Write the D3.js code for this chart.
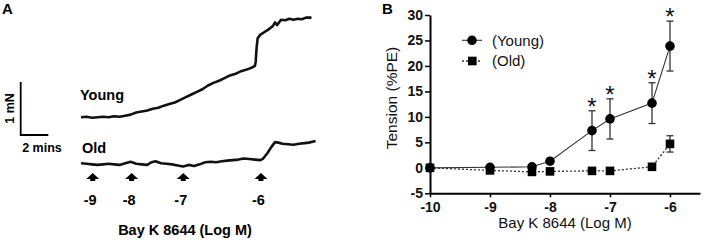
<!DOCTYPE html>
<html>
<head>
<meta charset="utf-8">
<script src="https://cdn.jsdelivr.net/npm/d3@7"></script>
<style>
  body { margin: 0; background: #fff; }
  svg { font-family: 'Liberation Sans', Arial, sans-serif; display: block; }
</style>
</head>
<body>
<svg width="709" height="244"></svg>
<script>
// panel B: dose response
const doses = [-10, -9, -8.3, -8, -7.3, -7, -6.3, -6]
const youngMean = [0, 0.1, 0.2, 1.3, 7.3, 9.6, 12.7, 23.9]
const youngSem = [0, 0, 0, 0, 3.9, 3.95, 4.0, 4.9]
const oldMean = [0, -0.5, -0.8, -0.7, -0.6, -0.6, 0.2, 4.7]
const oldSem = [0, 0, 0, 0, 0, 0, 0, 1.6]
const significant = [false, false, false, false, true, true, true, true]
const yTicks = [-5, 0, 5, 10, 15, 20, 25, 30]
const xTicks = [-10, -9, -8, -7, -6]

// panel A: raw traces (minutes, mN above start)
const youngTime = [0, 0.4, 0.8, 1.2, 1.6, 2.0, 2.4, 2.8, 3.2, 3.6, 4.0, 4.4, 4.8, 5.2, 5.6, 6.0, 6.4, 6.8, 7.2, 7.6, 8.0, 8.4, 8.8, 9.2, 9.6, 10.0, 10.4, 10.8, 11.2, 11.6, 12.0, 12.4, 12.6, 12.66, 12.72, 12.8, 13.0, 13.3, 13.6, 13.9, 14.06, 14.2, 14.5, 14.8, 15.1, 15.4, 15.7, 16.0, 16.3, 16.7]
const youngTension = [0, 0.01, -0.01, 0, 0.01, 0, 0.02, 0.01, 0.03, 0.05, 0.09, 0.11, 0.13, 0.16, 0.18, 0.22, 0.25, 0.28, 0.33, 0.38, 0.43, 0.48, 0.53, 0.6, 0.65, 0.69, 0.74, 0.79, 0.82, 0.87, 0.9, 0.94, 0.97, 1.05, 1.3, 1.49, 1.56, 1.61, 1.66, 1.72, 1.79, 1.74, 1.84, 1.83, 1.86, 1.84, 1.86, 1.85, 1.88, 1.88]
const oldTime = [0, 0.4, 0.8, 1.2, 1.6, 2.0, 2.4, 2.8, 3.2, 3.6, 4.0, 4.4, 4.8, 5.1, 5.4, 5.8, 6.2, 6.6, 7.0, 7.4, 7.8, 8.2, 8.6, 9.0, 9.4, 9.8, 10.2, 10.6, 11.0, 11.4, 11.8, 12.2, 12.6, 13.0, 13.2, 13.5, 13.8, 14.06, 14.3, 14.6, 15.0, 15.4, 15.8, 16.2, 16.5, 17.0]
const oldTension = [0, -0.01, -0.02, -0.03, -0.02, -0.01, -0.02, -0.03, 0, 0.03, -0.01, -0.02, -0.03, 0.02, 0.04, 0, -0.01, -0.02, -0.04, -0.06, -0.03, -0.05, -0.02, 0.02, 0.03, 0.02, 0.04, 0.05, 0.06, 0.07, 0.09, 0.08, 0.07, 0.06, 0.09, 0.19, 0.31, 0.4, 0.39, 0.37, 0.36, 0.35, 0.37, 0.38, 0.39, 0.42]
const additionTime = [0.85, 3.67, 7.41, 13.04]
const additionLabels = ['-9', '-8', '-7', '-6']

const svg = d3.select('svg')

// ---------- panel A ----------
const xA = d3.scaleLinear().domain([0, 1]).range([81, 81 + 13.8])
const yYoung = d3.scaleLinear().domain([0, 1]).range([117.3, 64.3])
const yOld = d3.scaleLinear().domain([0, 1]).range([163.3, 110.3])

const a = svg.append('g')

a.append('text').attr('x', 2).attr('y', 14)
  .attr('font-size', 15).attr('font-weight', 'bold').text('A')

const trace = (times, vals, yScale) => d3.line()
  .x((d, i) => xA(times[i]))
  .y(d => yScale(d))(vals)

a.append('path').attr('d', trace(youngTime, youngTension, yYoung))
  .attr('fill', 'none').attr('stroke', '#111').attr('stroke-width', 2.6)
  .attr('stroke-linejoin', 'round')
a.append('path').attr('d', trace(oldTime, oldTension, yOld))
  .attr('fill', 'none').attr('stroke', '#111').attr('stroke-width', 2.6)
  .attr('stroke-linejoin', 'round')

a.append('text').attr('x', 80).attr('y', 100)
  .attr('font-size', 14.5).attr('font-weight', 'bold').text('Young')
a.append('text').attr('x', 82).attr('y', 153)
  .attr('font-size', 14.5).attr('font-weight', 'bold').text('Old')

// scale bar: 1 mN x 2 mins
const barX = 20.7
const barY = 135
const barW = xA(2) - xA(0)
const barH = yYoung(0) - yYoung(1)
a.append('path')
  .attr('d', `M${barX},${barY - barH}V${barY}H${barX + barW}`)
  .attr('fill', 'none').attr('stroke', '#000').attr('stroke-width', 1.8)
a.append('text')
  .attr('transform', `translate(13.5, ${barY - barH / 2}) rotate(-90)`)
  .attr('text-anchor', 'middle').attr('font-size', 12.5).attr('font-weight', 'bold')
  .text('1 mN')
a.append('text').attr('x', 42).attr('y', 152)
  .attr('text-anchor', 'middle').attr('font-size', 12.5).attr('font-weight', 'bold')
  .text('2 mins')

// addition arrows
const arrows = a.selectAll('.arrow').data(additionTime)
  .enter().append('g')
  .attr('transform', d => `translate(${xA(d)}, 178)`)
arrows.append('path')
  .attr('d', 'M-6.5,1L0,-5L6.5,1H2.5V3H-2.5V1Z')
  .attr('fill', '#000')
arrows.append('text')
  .attr('x', -2.5).attr('y', 27)
  .attr('text-anchor', 'middle').attr('font-size', 14.5).attr('font-weight', 'bold')
  .text((d, i) => additionLabels[i])

a.append('text').attr('x', 185).attr('y', 235)
  .attr('text-anchor', 'middle').attr('font-size', 14.5).attr('font-weight', 'bold')
  .text('Bay K 8644 (Log M)')

// ---------- panel B ----------
const xScale = d3.scaleLinear().domain([-10, -5.5]).range([430, 700])
const yScale = d3.scaleLinear().domain([-5, 30]).range([193.3, 15])

const b = svg.append('g')

b.append('text').attr('x', 382).attr('y', 14)
  .attr('font-size', 15).attr('font-weight', 'bold').text('B')

b.append('g')
  .attr('transform', 'translate(430, 0)')
  .call(d3.axisLeft(yScale).tickValues(yTicks).tickSize(5).tickPadding(2).tickSizeOuter(0))
b.append('g')
  .attr('transform', 'translate(0, 193.3)')
  .call(d3.axisBottom(xScale).tickValues(xTicks).tickSize(4).tickPadding(5).tickSizeOuter(0))

b.selectAll('.domain').attr('stroke-width', 2)
b.selectAll('.tick line').attr('stroke-width', 1.5)
b.selectAll('.tick text')
  .attr('font-size', 14).attr('font-weight', 'bold')
  .attr('font-family', "'Liberation Sans', Arial, sans-serif")
  .attr('fill', '#111')
  .text(d => d < 0 ? '-' + Math.abs(d) : d)

b.append('text').attr('x', 565).attr('y', 228)
  .attr('text-anchor', 'middle').attr('font-size', 15).attr('fill', '#111')
  .text('Bay K 8644 (Log M)')
b.append('text')
  .attr('transform', 'translate(397, 98) rotate(-90)')
  .attr('text-anchor', 'middle').attr('font-size', 15.5).attr('fill', '#111')
  .text('Tension (%PE)')

const young = doses.map((d, i) => ({ dose: d, mean: youngMean[i], sem: youngSem[i], sig: significant[i] }))
const old = doses.map((d, i) => ({ dose: d, mean: oldMean[i], sem: oldSem[i] }))

const line = d3.line().x(d => xScale(d.dose)).y(d => yScale(d.mean))

b.append('path').attr('d', line(old))
  .attr('fill', 'none').attr('stroke', '#333').attr('stroke-width', 1.3)
  .attr('stroke-dasharray', '2,2')
b.append('path').attr('d', line(young))
  .attr('fill', 'none').attr('stroke', '#333').attr('stroke-width', 1.1)

// error bars
const errorBars = (data) => {
  const g = b.append('g').attr('stroke', '#333').attr('stroke-width', 1.3)
  const withErr = data.filter(d => d.sem > 0)
  g.selectAll('.v').data(withErr).enter().append('line')
    .attr('x1', d => xScale(d.dose)).attr('x2', d => xScale(d.dose))
    .attr('y1', d => yScale(d.mean + d.sem)).attr('y2', d => yScale(d.mean - d.sem))
  g.selectAll('.top').data(withErr).enter().append('line')
    .attr('x1', d => xScale(d.dose) - 3.5).attr('x2', d => xScale(d.dose) + 3.5)
    .attr('y1', d => yScale(d.mean + d.sem)).attr('y2', d => yScale(d.mean + d.sem))
  g.selectAll('.bot').data(withErr).enter().append('line')
    .attr('x1', d => xScale(d.dose) - 3.5).attr('x2', d => xScale(d.dose) + 3.5)
    .attr('y1', d => yScale(d.mean - d.sem)).attr('y2', d => yScale(d.mean - d.sem))
}
errorBars(young)
errorBars(old)

b.selectAll('.sq').data(old).enter().append('rect')
  .attr('x', d => xScale(d.dose) - 4.3).attr('y', d => yScale(d.mean) - 4.3)
  .attr('width', 8.6).attr('height', 8.6).attr('fill', '#000')
b.selectAll('.dot').data(young).enter().append('circle')
  .attr('cx', d => xScale(d.dose)).attr('cy', d => yScale(d.mean))
  .attr('r', 4.8).attr('fill', '#000')

b.selectAll('.star').data(young.filter(d => d.sig)).enter().append('text')
  .attr('x', d => xScale(d.dose)).attr('y', d => yScale(d.mean + d.sem) + 4)
  .attr('text-anchor', 'middle').attr('font-size', 24).attr('fill', '#111')
  .text('*')

// legend
const legend = b.append('g')
legend.append('line').attr('x1', 462).attr('x2', 482).attr('y1', 40.3).attr('y2', 40.3)
  .attr('stroke', '#333').attr('stroke-width', 1.1)
legend.append('circle').attr('cx', 472).attr('cy', 40.3).attr('r', 4.8).attr('fill', '#000')
legend.append('line').attr('x1', 462).attr('x2', 482).attr('y1', 61).attr('y2', 61)
  .attr('stroke', '#333').attr('stroke-width', 1.3).attr('stroke-dasharray', '2,2')
legend.append('rect').attr('x', 468).attr('y', 56.7).attr('width', 8.6).attr('height', 8.6).attr('fill', '#000')
legend.append('text').attr('x', 492).attr('y', 45.5).attr('font-size', 15).attr('fill', '#111').text('(Young)')
legend.append('text').attr('x', 492).attr('y', 66).attr('font-size', 15).attr('fill', '#111').text('(Old)')
</script>
</body>
</html>
